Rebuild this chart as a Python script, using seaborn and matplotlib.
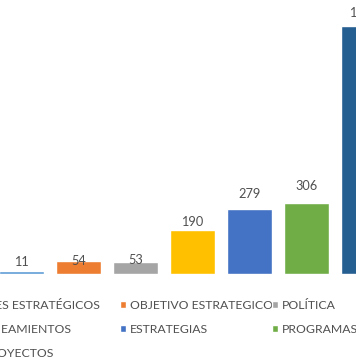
import matplotlib
matplotlib.use("Agg")
import matplotlib.pyplot as plt
import seaborn as sns

# data
categorias = ["EJES ESTRATÉGICOS", "OBJETIVO ESTRATEGICO", "POLÍTICA",
              "LINEAMIENTOS", "ESTRATEGIAS", "PROGRAMAS", "PROYECTOS"]
valores = [11, 54, 53, 190, 279, 306, 1069]
colores = ["#5B9BD5", "#ED7D31", "#A5A5A5", "#FFC000", "#4472C4", "#70AD47", "#255E91"]

sns.set_style("white")
plt.rcParams['font.family'] = ['Lato', 'DejaVu Sans']
gris = "#505050"

W, H = 356, 364
fig = plt.figure(figsize=(W / 100, H / 100), dpi=100)
# the picture is a crop of a wider chart: axes run past the left/right/top edges
ax = fig.add_axes([-7 / W, 90 / H, 399 / W, 278.4 / H])

sns.barplot(x=categorias, y=valores, hue=categorias, palette=colores,
            width=0.79, legend=False, saturation=1, ax=ax)
ax.set_xlim(-0.5, 6.5)
ax.set_ylim(0, 1200)
ax.axis("off")

# data labels (hand placed in the original, so the lift varies)
lift = [9, 0, 1.5, 8, 15, 17, 13]
for i, (v, d) in enumerate(zip(valores, lift)):
    ax.annotate(str(v), (i, v), xytext=(0, d * 0.72), textcoords="offset points",
                ha="center", va="center", fontsize=9.2, color=gris)

handles = [c[0] for c in ax.containers]
columnas = [[0, 3, 6], [1, 4], [2, 5]]
col_x = [-27, 120, 272]
for cols, x in zip(columnas, col_x):
    leg = fig.legend([handles[k] for k in cols], [categorias[k] for k in cols],
                     loc="upper left", bbox_to_anchor=(x / W, 64 / H),
                     frameon=False, borderpad=0, borderaxespad=0,
                     handlelength=0.5, handleheight=0.5, handletextpad=0.3,
                     labelspacing=1.08, fontsize=8.8, labelcolor=gris)

fig.savefig("out.png", dpi=100)
